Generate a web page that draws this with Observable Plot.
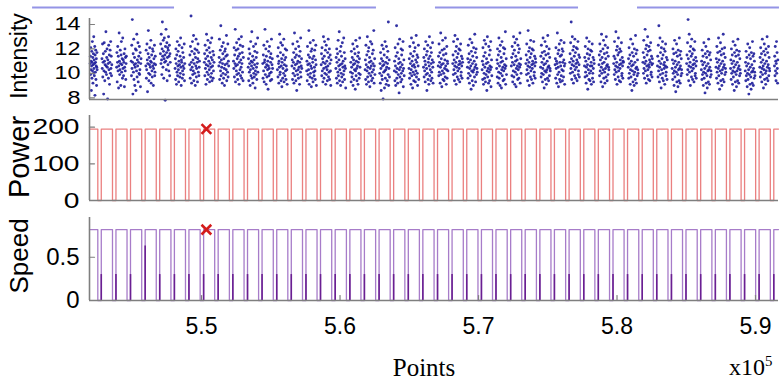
<!DOCTYPE html>
<html>
<head>
<meta charset="utf-8">
<script src="https://cdn.jsdelivr.net/npm/d3@7"></script>
<script src="https://cdn.jsdelivr.net/npm/@observablehq/plot@0.6"></script>
<style>
  body { margin: 0; background: #fff; }
  #fig { position: relative; width: 783px; height: 380px; overflow: hidden; font-family: "Liberation Sans", Arial, sans-serif; }
  #fig svg { position: absolute; left: 0; overflow: visible; }
  .ytitle { position: absolute; left: 19px; transform: translate(-50%, -50%) rotate(-90deg); white-space: nowrap; color: #000; line-height: 1; }
  .xtitle { position: absolute; font-family: "Liberation Serif", "Times New Roman", serif; color: #000; white-space: nowrap; line-height: 1; }
  .xtitle sup { font-size: 0.62em; vertical-align: 0.62em; line-height: 0; }
</style>
</head>
<body>
<div id="fig"></div>
<script>
// Horizontal range shown, in units of 1e5 points
const xDomain = [5.4191, 5.9166];
const xTicks = [5.5, 5.6, 5.7, 5.8, 5.9];

// Instants where each low (off) phase ends, x1e5 points
const risingEdges = [
  5.4276, 5.4382, 5.4487, 5.4593, 5.4698, 5.4804, 5.4909, 5.5015, 5.5120, 5.5226,
  5.5332, 5.5437, 5.5543, 5.5648, 5.5754, 5.5859, 5.5965, 5.6071, 5.6176, 5.6282,
  5.6387, 5.6493, 5.6598, 5.6704, 5.6809, 5.6915, 5.7021, 5.7126, 5.7232, 5.7337,
  5.7443, 5.7548, 5.7654, 5.7760, 5.7865, 5.7971, 5.8076, 5.8182, 5.8287, 5.8393,
  5.8498, 5.8604, 5.8710, 5.8815, 5.8921, 5.9026, 5.9132
];
// Length of each off phase, x1e5 points
const offDuration = 0.0025;

// Levels during the on phase
const powerOn = 195;
const speedOn = 0.82;

// Speed transient recorded at the end of every off phase
const speedSpikes = [
  0.30, 0.30, 0.30, 0.63, 0.30, 0.30, 0.30, 0.30, 0.30, 0.30,
  0.30, 0.30, 0.30, 0.30, 0.30, 0.30, 0.30, 0.30, 0.30, 0.30,
  0.30, 0.30, 0.30, 0.30, 0.30, 0.30, 0.30, 0.30, 0.30, 0.30,
  0.30, 0.30, 0.30, 0.30, 0.30, 0.30, 0.30, 0.30, 0.30, 0.30,
  0.30, 0.30, 0.30, 0.30, 0.30, 0.30, 0.30
];

// Flagged sample
const markerX = 5.5035;

// Segment bars drawn above the intensity panel, x1e5 points
const segmentStarts = [5.378, 5.5223, 5.6689, 5.8148];
const segmentEnds = [5.4805, 5.6263, 5.7722, 5.9173];

// Axis ticks
const intensityDomain = [7.86, 14.49];
const intensityTicks = [8, 10, 12, 14];
const powerDomain = [0, 232];
const powerTicks = [0, 100, 200];
const speedDomain = [0, 0.96];
const speedTicks = [0, 0.5];

// Intensity samples of each on phase, in acquisition order
const intensityByPulse = [
  "10.8 11.4 9.9 12.1 10.3 11.0 8.6 10.6 11.8 9.6 10.9 12.6 10.2 11.3 9.2 10.7 11.6 10.0 13.0 10.4 11.1 9.8 10.8 12.2 8.2 11.5 10.1 10.9 11.9 9.5 10.6 11.2 9.0 10.5 11.7 10.3",
  "11.2 10.4 12.4 9.7 10.9 11.6 8.3 10.2 12.5 11.0 9.4 10.7 11.8 10.1 13.4 10.6 9.9 11.3 12.0 10.5 7.9 11.1 10.8 9.6 12.3 10.3 11.5 9.1 10.9 11.9 10.0 12.6 10.4 11.4 9.8 10.7",
  "10.5 11.7 9.3 10.9 12.2 10.2 11.4 8.8 10.6 13.3 11.0 9.9 10.3 11.9 10.8 9.0 11.5 12.6 10.1 10.7 11.2 9.6 12.9 10.4 11.1 9.8 10.9 11.6 8.9 10.5 12.0 10.2 11.3 9.5 10.8 11.4",
  "11.0 9.8 12.3 10.4 14.4 10.9 8.3 11.6 10.1 12.8 9.5 10.7 11.3 9.0 10.5 12.0 10.8 8.6 11.9 10.2 13.2 9.7 11.1 10.6 12.5 9.3 10.9 11.4 10.0 12.2 9.9 10.3 11.7 8.9 10.8 11.2",
  "10.6 11.9 9.6 10.3 12.4 11.1 8.5 10.8 11.6 13.5 10.0 9.4 11.3 10.7 12.1 9.9 10.5 11.0 12.7 9.2 10.9 11.5 10.2 9.7 12.0 10.6 11.8 9.0 10.4 11.2 10.8 12.3 9.8 10.1 11.4 10.7",
  "11.6 12.4 10.8 13.2 11.1 9.9 12.0 14.2 11.4 10.5 12.7 11.8 9.6 11.2 12.9 10.9 11.5 7.8 12.2 11.0 13.6 10.3 11.7 12.5 9.4 11.3 12.1 10.7 11.9 13.0 10.2 11.4 12.3 9.8 11.6 10.9",
  "10.4 11.2 9.5 12.0 10.8 9.1 11.5 10.1 12.6 9.8 10.6 11.8 10.3 9.3 11.0 12.3 10.7 9.7 11.4 10.0 12.9 10.5 9.0 11.1 10.9 12.1 9.6 10.2 11.7 10.6 9.9 11.3 10.4 12.4 9.4 10.8",
  "10.7 11.5 9.6 12.2 10.3 14.7 10.9 9.2 11.8 10.5 12.6 9.9 11.1 10.2 13.1 9.4 10.8 11.6 10.0 12.0 9.0 11.3 10.6 12.8 9.7 10.4 11.9 10.9 9.3 11.2 12.4 10.1 11.7 9.8 10.5 11.0",
  "10.9 11.6 9.8 12.3 10.4 11.2 9.1 10.7 13.2 11.9 10.1 9.5 11.4 12.7 10.6 9.9 11.0 12.1 10.3 9.3 11.7 10.8 12.5 9.7 10.5 11.3 10.0 12.9 9.4 11.1 10.6 11.8 9.6 10.2 11.5 10.9",
  "10.6 11.3 12.8 9.5 10.9 11.9 10.2 13.9 9.8 11.1 10.5 12.2 9.2 10.8 11.6 10.0 12.5 9.6 11.2 10.4 9.0 11.8 10.7 12.0 9.9 11.4 10.3 13.1 9.4 10.8 11.5 10.1 12.4 9.7 11.0 10.6",
  "11.0 10.4 12.1 9.7 11.5 10.8 13.6 9.3 10.6 11.9 10.2 12.5 9.9 11.2 10.7 9.5 12.0 11.4 10.0 12.8 9.1 10.9 11.6 10.3 12.3 9.8 11.1 10.5 13.0 9.6 10.8 11.7 10.1 12.2 9.4 11.3",
  "10.5 11.2 9.4 12.0 10.1 10.8 11.6 9.0 10.3 12.6 9.8 11.0 10.6 13.4 9.6 10.9 11.4 9.2 10.4 12.2 10.0 11.1 9.7 10.7 11.8 8.8 10.2 12.4 9.9 11.3 10.5 9.5 11.7 10.8 12.9 10.1",
  "10.8 9.6 11.5 10.2 12.3 9.3 10.9 11.1 13.6 9.9 10.5 12.0 9.1 11.4 10.7 9.7 12.6 10.3 11.0 8.7 10.6 11.8 9.8 10.4 12.2 10.0 11.3 9.4 10.9 11.6 10.1 12.8 9.5 10.7 11.2 10.4",
  "10.3 11.4 9.7 12.1 10.8 9.2 11.0 10.5 13.2 9.9 10.1 11.7 12.5 9.4 10.6 11.2 8.9 10.9 12.3 9.6 10.4 11.5 10.0 12.8 9.3 10.7 11.1 9.8 12.0 10.2 11.3 9.5 10.6 11.9 10.3 9.1",
  "10.6 11.1 9.5 12.4 10.0 10.9 11.7 9.2 10.4 13.3 9.8 11.3 10.7 12.0 9.4 10.2 11.5 8.6 10.8 12.6 9.9 11.0 10.3 9.6 12.2 10.5 11.4 9.1 10.9 11.8 10.1 12.9 9.7 10.6 11.2 10.4",
  "10.2 11.0 9.4 12.2 10.7 9.9 11.5 10.3 13.5 9.1 10.8 11.3 9.7 12.5 10.0 10.6 11.8 8.9 10.4 12.0 9.6 11.2 10.9 9.3 12.7 10.1 11.4 9.8 10.5 11.9 10.2 9.5 11.1 12.3 10.7 9.0",
  "10.7 11.6 9.8 12.1 10.2 11.2 9.3 10.9 13.0 10.4 9.6 11.4 12.6 10.0 10.8 11.9 9.1 10.5 12.3 9.9 11.0 10.3 9.4 11.7 10.6 12.8 9.7 11.3 10.1 12.0 9.5 10.8 11.5 10.2 9.0 11.1",
  "10.4 11.3 9.6 12.0 10.9 9.2 11.6 10.1 12.7 9.8 10.6 11.1 13.4 9.4 10.3 11.8 10.7 9.0 12.2 10.0 11.4 9.7 10.8 12.5 9.3 10.5 11.0 9.9 12.9 10.2 11.7 9.5 10.6 11.2 10.4 8.8",
  "10.1 10.9 9.3 11.8 10.5 9.7 11.3 10.0 12.4 9.0 10.7 11.1 9.5 12.0 10.3 10.8 11.6 8.7 10.2 12.7 9.8 11.0 10.4 9.4 12.2 10.6 11.4 9.1 10.9 11.7 10.0 9.6 11.2 12.9 10.5 9.9",
  "10.3 11.1 9.5 12.3 10.7 9.1 11.5 10.2 13.0 9.7 10.5 11.8 9.3 12.1 10.0 10.9 11.3 8.9 10.4 12.6 9.8 11.0 10.6 9.4 12.4 10.1 11.6 9.6 10.8 11.9 10.3 13.5 9.2 10.6 11.2 9.9",
  "10.0 10.8 9.2 11.7 10.4 8.6 11.2 9.8 12.3 9.5 10.6 11.0 7.9 12.0 10.1 10.7 11.5 8.8 10.2 12.6 9.6 10.9 10.3 9.1 12.2 10.5 11.3 9.4 10.8 11.8 9.9 14.2 9.0 10.4 11.1 9.7",
  "10.2 11.0 9.4 12.1 10.6 9.0 11.4 10.1 13.9 9.6 10.4 11.7 9.2 12.4 9.9 10.8 11.2 8.4 10.3 12.8 9.7 10.9 10.5 9.3 12.0 10.0 11.5 9.5 10.7 11.9 10.2 12.6 8.9 10.4 11.1 9.8",
  "10.4 11.2 9.6 12.2 10.0 10.8 11.6 9.1 10.3 12.9 9.8 11.0 10.6 8.8 11.4 10.1 12.5 9.4 10.7 11.8 9.9 10.5 12.1 9.3 11.1 10.2 13.1 9.7 10.9 11.5 10.0 9.0 11.3 10.6 12.3 9.5",
  "10.5 11.3 9.7 12.0 10.2 11.0 9.3 10.7 12.6 9.9 11.5 10.4 8.6 11.8 10.0 12.3 9.5 10.9 11.2 9.1 10.6 13.0 9.8 11.4 10.3 12.1 9.4 10.8 11.7 10.1 9.6 11.1 12.5 10.5 9.2 10.9",
  "10.6 11.4 9.8 12.4 10.1 10.9 11.7 9.2 10.5 13.3 9.9 11.2 10.7 8.9 11.9 10.2 12.7 9.5 10.8 11.5 10.0 9.4 12.0 10.4 11.1 9.7 12.9 10.6 11.6 9.1 10.3 12.2 9.6 11.0 10.8 10.2",
  "10.8 11.5 9.9 12.6 10.3 11.1 9.4 10.6 13.1 10.0 11.8 10.9 9.1 12.2 10.5 11.3 9.7 12.8 10.2 11.6 9.5 10.7 12.0 10.4 11.0 9.3 11.9 10.8 12.4 9.8 10.1 11.4 10.6 9.6 11.2 10.9",
  "10.5 11.2 9.6 12.3 10.0 10.9 11.6 9.2 10.4 12.8 9.8 11.1 10.6 8.7 11.8 10.2 12.5 9.4 10.8 11.4 10.1 9.0 12.1 10.3 11.0 9.7 13.2 10.5 11.7 9.3 10.7 12.0 9.9 11.3 10.4 10.1",
  "10.3 11.0 9.5 12.1 10.7 9.1 11.4 10.0 12.7 9.6 10.5 11.7 9.3 12.4 9.9 10.8 11.2 8.6 10.2 13.0 9.7 10.9 10.4 9.2 12.2 10.1 11.5 9.4 10.6 11.9 10.3 12.6 8.9 10.5 11.1 9.8",
  "10.4 11.1 9.7 12.0 10.8 9.2 11.5 10.1 12.9 9.6 10.6 11.8 9.0 12.3 10.0 10.9 11.3 8.8 10.3 12.6 9.8 11.0 10.5 9.4 12.1 10.2 11.6 9.5 10.7 12.0 10.4 13.4 9.1 10.6 11.2 9.9",
  "10.6 11.3 9.8 12.2 10.9 9.3 11.6 10.2 13.0 9.7 10.7 11.9 9.1 12.5 10.1 11.0 11.4 8.9 10.4 12.8 9.9 11.1 10.6 9.5 12.3 10.3 11.7 9.6 10.8 12.0 10.5 13.3 9.2 10.7 11.2 10.0",
  "10.8 11.5 9.9 12.4 10.3 11.1 9.4 10.6 13.5 10.0 11.8 10.9 9.0 12.1 10.5 11.3 9.7 12.7 10.2 11.6 9.5 10.7 12.0 10.4 11.0 9.2 11.9 10.8 12.6 9.8 10.1 11.4 10.6 9.6 11.2 10.9",
  "10.5 11.4 9.7 12.3 10.0 10.9 11.7 9.3 10.4 12.9 9.9 11.2 10.7 8.8 11.8 10.2 12.6 9.5 10.8 11.5 10.1 9.1 12.2 10.3 11.0 9.6 13.1 10.5 11.6 9.4 10.6 12.0 9.8 11.3 10.4 10.2",
  "10.7 11.2 9.6 12.1 10.4 11.0 9.2 10.8 13.3 9.9 11.6 10.5 8.9 11.9 10.1 12.4 9.5 10.9 11.4 9.3 10.6 12.7 9.8 11.5 10.3 12.0 9.4 10.9 11.8 10.2 9.7 11.1 12.5 10.6 9.1 10.8",
  "10.9 11.6 10.0 12.5 10.4 14.2 11.2 9.5 10.7 13.0 10.1 11.9 11.0 9.2 12.2 10.6 11.4 9.8 12.8 10.3 11.7 9.6 10.8 12.1 10.5 11.1 9.4 12.0 10.9 12.6 9.9 10.2 11.5 10.7 9.7 11.3",
  "10.6 11.3 9.7 12.2 10.1 11.0 9.2 10.5 12.9 9.8 11.6 10.7 8.7 12.0 10.3 11.2 9.5 12.6 10.0 11.5 9.4 10.6 11.9 10.2 10.9 9.1 11.8 10.6 12.4 9.6 10.0 11.3 10.4 9.3 11.1 10.8",
  "10.7 11.5 9.8 12.4 10.2 11.1 11.8 9.3 10.5 13.2 10.0 11.3 10.8 8.9 12.0 10.3 12.7 9.6 10.9 11.6 10.1 9.2 12.3 10.4 11.2 9.7 13.0 10.6 11.7 9.4 10.7 12.1 9.9 11.4 10.5 10.3",
  "10.8 11.4 9.9 12.6 10.3 11.2 9.5 10.6 13.4 10.1 11.9 10.9 9.1 12.2 10.5 11.5 9.7 12.9 10.2 11.7 9.4 10.7 12.0 10.4 11.1 9.3 11.8 10.8 12.5 9.8 10.0 11.3 10.6 9.6 11.0 10.9",
  "10.5 11.2 9.6 12.1 10.0 10.8 11.5 9.1 10.3 12.8 9.7 11.0 10.6 8.6 11.7 10.2 12.4 9.3 10.7 11.4 9.9 9.0 12.0 10.1 10.9 9.5 13.1 10.4 11.6 9.2 10.5 11.9 9.8 11.1 10.3 10.0",
  "10.9 11.7 10.0 12.7 10.4 11.3 9.6 10.8 13.6 10.2 12.0 11.0 9.2 12.3 10.6 11.5 9.8 13.0 10.3 11.8 9.5 10.7 12.2 10.5 11.1 9.4 11.9 10.9 12.5 9.9 10.1 11.4 10.7 9.7 11.2 10.8",
  "10.6 11.4 9.7 12.3 10.2 13.9 11.0 9.3 10.5 12.9 9.9 11.7 10.8 8.8 12.1 10.3 11.2 9.6 12.6 10.0 11.5 9.4 10.7 12.0 10.4 10.9 9.1 11.8 10.6 12.4 9.8 10.1 11.3 10.5 9.5 11.1",
  "10.4 11.1 9.5 12.0 10.0 10.8 11.6 9.0 10.2 12.7 9.7 11.0 10.5 8.5 11.7 10.1 12.4 9.3 10.7 11.4 9.9 8.9 11.9 10.3 10.9 9.4 12.9 10.4 11.5 9.2 10.6 11.8 9.8 11.2 10.3 10.0",
  "10.8 11.5 9.9 12.5 10.3 14.4 11.2 9.4 10.6 13.2 10.1 11.8 10.9 9.0 12.2 10.5 11.4 9.7 12.8 10.2 11.6 9.5 10.7 12.0 10.4 11.1 9.3 11.9 10.8 12.6 9.8 10.0 11.3 10.6 9.6 11.0",
  "10.3 11.0 9.5 11.9 9.9 10.7 11.4 9.0 10.1 12.5 9.6 10.9 10.4 8.4 11.6 10.0 12.2 9.2 10.6 11.3 9.8 8.8 11.8 10.2 10.8 9.3 12.8 10.3 11.5 9.1 10.5 11.7 9.7 11.1 10.2 9.9",
  "10.5 11.2 9.6 12.2 10.1 10.9 11.7 9.2 10.4 12.9 9.8 11.1 10.6 8.7 11.8 10.2 12.5 9.4 10.8 11.5 10.0 9.0 12.0 10.3 11.0 9.5 13.2 10.5 11.6 9.3 10.7 12.1 9.9 11.3 10.4 10.1",
  "10.4 11.1 9.5 12.0 10.0 10.8 11.5 9.1 10.2 12.6 9.7 11.0 10.5 8.6 11.7 10.1 12.3 9.3 10.7 11.4 9.9 8.9 11.9 10.2 10.9 9.4 12.8 10.4 11.5 9.2 10.6 11.8 9.8 11.2 10.3 10.0",
  "10.2 10.9 9.4 11.8 9.8 10.6 11.3 8.9 10.0 12.4 9.5 10.8 10.3 8.3 11.5 9.9 12.1 9.1 10.5 11.2 9.7 8.7 11.7 10.1 10.7 9.2 12.6 10.2 11.4 9.0 10.4 11.6 9.6 11.0 10.1 9.8",
  "10.5 11.3 9.7 12.1 10.1 10.9 11.6 9.3 10.4 12.8 9.9 11.1 10.6 8.8 11.8 10.3 12.4 9.5 10.8 11.5 10.0 9.1 12.0 10.2 11.0 9.6 13.0 10.5 11.7 9.4 10.7 12.2 9.8 11.3 10.4 10.2",
  "10.6 11.4 9.8 12.2 10.2 11.0 9.4 10.8 12.6 10.0 11.7 10.4 9.2 11.1"
];

// ---- derived tables ----
// On phases: from the end of one off phase to the start of the next
const onStarts = [xDomain[0], ...risingEdges];
const onEnds = [...risingEdges.map(r => r - offDuration), xDomain[1]];

const intensity = intensityByPulse.flatMap((row, k) => {
  const vals = row.split(" ").map(Number);
  const a = onStarts[k] + 0.0004, b = onEnds[k] - 0.0004;
  return vals.map((v, i) => ({x: a + (i + 0.5) / vals.length * (b - a), v}));
});

function squareWave(high) {
  const pts = [{x: xDomain[0], v: high}];
  for (const r of risingEdges) {
    pts.push({x: r - offDuration, v: high}, {x: r - offDuration, v: 0}, {x: r, v: 0}, {x: r, v: high});
  }
  pts.push({x: xDomain[1], v: high});
  return pts;
}
const power = squareWave(powerOn);
const speed = squareWave(speedOn);
const spikes = risingEdges.map((x, i) => ({x, v: speedSpikes[i]}));

const segments = segmentStarts.map((s, i) => ({x1: s, x2: segmentEnds[i], y: intensityDomain[1]}));

// ---- drawing ----
const axisGray = "#7f7f7f";
const fontFamily = '"Liberation Sans", Arial, sans-serif';
const base = {
  width: 783, marginLeft: 89, marginRight: 5,
  style: {fontFamily, color: "#000", background: "none", overflow: "visible"}
};

// A plain straight tick (no arrow head) for vector marks
const tickShape = {draw(context, l) { context.moveTo(0, 0); context.lineTo(0, -l); }};

// Frame lines on the left and bottom, with short ticks pointing inward
function frameMarks(yDomain, yTicks) {
  return [
    Plot.ruleX([xDomain[0]], {stroke: axisGray, strokeWidth: 1.6}),
    Plot.ruleY([yDomain[0]], {stroke: axisGray, strokeWidth: 1.6}),
    Plot.vector(yTicks.map(v => ({x: xDomain[0], y: v})), {x: "x", y: "y", length: 5, rotate: 90, anchor: "start", shape: tickShape, stroke: axisGray, strokeWidth: 1.2})
  ];
}

const pIntensity = Plot.plot({
  ...base, height: 104, marginTop: 18, marginBottom: 5,
  x: {domain: xDomain, axis: null},
  y: {domain: intensityDomain},
  marks: [
    Plot.ruleY(segments, {x1: "x1", x2: "x2", y: "y", dy: -11, stroke: "#9494e6", strokeWidth: 2}),
    Plot.dot(intensity, {x: "x", y: "v", r: 1.45, fill: "#1c1c9a", fillOpacity: 0.9}),
    ...frameMarks(intensityDomain, intensityTicks),
    Plot.axisY(intensityTicks, {tickSize: 0, tickPadding: 9, fontSize: 18, label: null})
  ]
});

const pPower = Plot.plot({
  ...base, height: 100, marginTop: 11, marginBottom: 4,
  x: {domain: xDomain, axis: null},
  y: {domain: powerDomain},
  marks: [
    Plot.line(power, {x: "x", y: "v", stroke: "#e66a6a", strokeWidth: 1.3, strokeOpacity: 0.85}),
    ...frameMarks(powerDomain, powerTicks.slice(1)),
    Plot.axisY(powerTicks, {tickSize: 0, tickPadding: 10, fontSize: 22, label: null}),
    Plot.dot([{x: markerX, v: powerOn}], {x: "x", y: "v", symbol: "times", r: 4.5, stroke: "#d41c1c", strokeWidth: 2.6})
  ]
});

const pSpeed = Plot.plot({
  ...base, height: 176, marginTop: 13, marginBottom: 80,
  x: {domain: xDomain},
  y: {domain: speedDomain},
  marks: [
    Plot.line(speed, {x: "x", y: "v", stroke: "#a77cc9", strokeWidth: 1.3}),
    Plot.ruleX(spikes, {x: "x", y1: 0, y2: "v", stroke: "#6a1f92", strokeWidth: 1.6}),
    ...frameMarks(speedDomain, speedTicks.slice(1)),
    Plot.vector(xTicks.map(x => ({x, y: speedDomain[0]})), {x: "x", y: "y", length: 5, rotate: 0, anchor: "start", shape: tickShape, stroke: axisGray, strokeWidth: 1.2}),
    Plot.axisY(speedTicks, {tickSize: 0, tickPadding: 10, fontSize: 24, label: null, tickFormat: d => String(d)}),
    Plot.axisX(xTicks, {tickSize: 0, tickPadding: 17, fontSize: 23, label: null, tickFormat: d3.format(".1f")}),
    Plot.dot([{x: markerX, v: speedOn}], {x: "x", y: "v", symbol: "times", r: 4.5, stroke: "#d41c1c", strokeWidth: 2.6})
  ]
});

const fig = document.getElementById("fig");
[[pIntensity, 0], [pPower, 104], [pSpeed, 204]].forEach(([svg, top]) => {
  svg.style.top = top + "px";
  fig.appendChild(svg);
});

// The y tick labels of the upper two panels use a wide, stretched face
function widenTickLabels(svg, factor) {
  svg.querySelectorAll('g[aria-label="y-axis tick label"] text').forEach(t => {
    const w = t.getComputedTextLength();
    t.setAttribute("textLength", (w * factor).toFixed(1));
    t.setAttribute("lengthAdjust", "spacingAndGlyphs");
  });
}
widenTickLabels(pIntensity, 1.3);
widenTickLabels(pPower, 1.28);

// Panel titles
[["Intensity", 56, 23], ["Power", 157, 29], ["Speed", 256, 26]].forEach(([t, cy, fs]) => {
  const el = document.createElement("div");
  el.className = "ytitle";
  el.textContent = t;
  el.style.top = cy + "px";
  el.style.fontSize = fs + "px";
  fig.appendChild(el);
});

const xt = document.createElement("div");
xt.className = "xtitle";
xt.textContent = "Points";
xt.style.cssText = "left:424px;top:355px;font-size:25px;transform:translateX(-50%);";
fig.appendChild(xt);

const xs = document.createElement("div");
xs.className = "xtitle";
xs.innerHTML = "x10<sup>5</sup>";
xs.style.cssText = "left:729px;top:355px;font-size:24px;";
fig.appendChild(xs);
</script>
</body>
</html>
